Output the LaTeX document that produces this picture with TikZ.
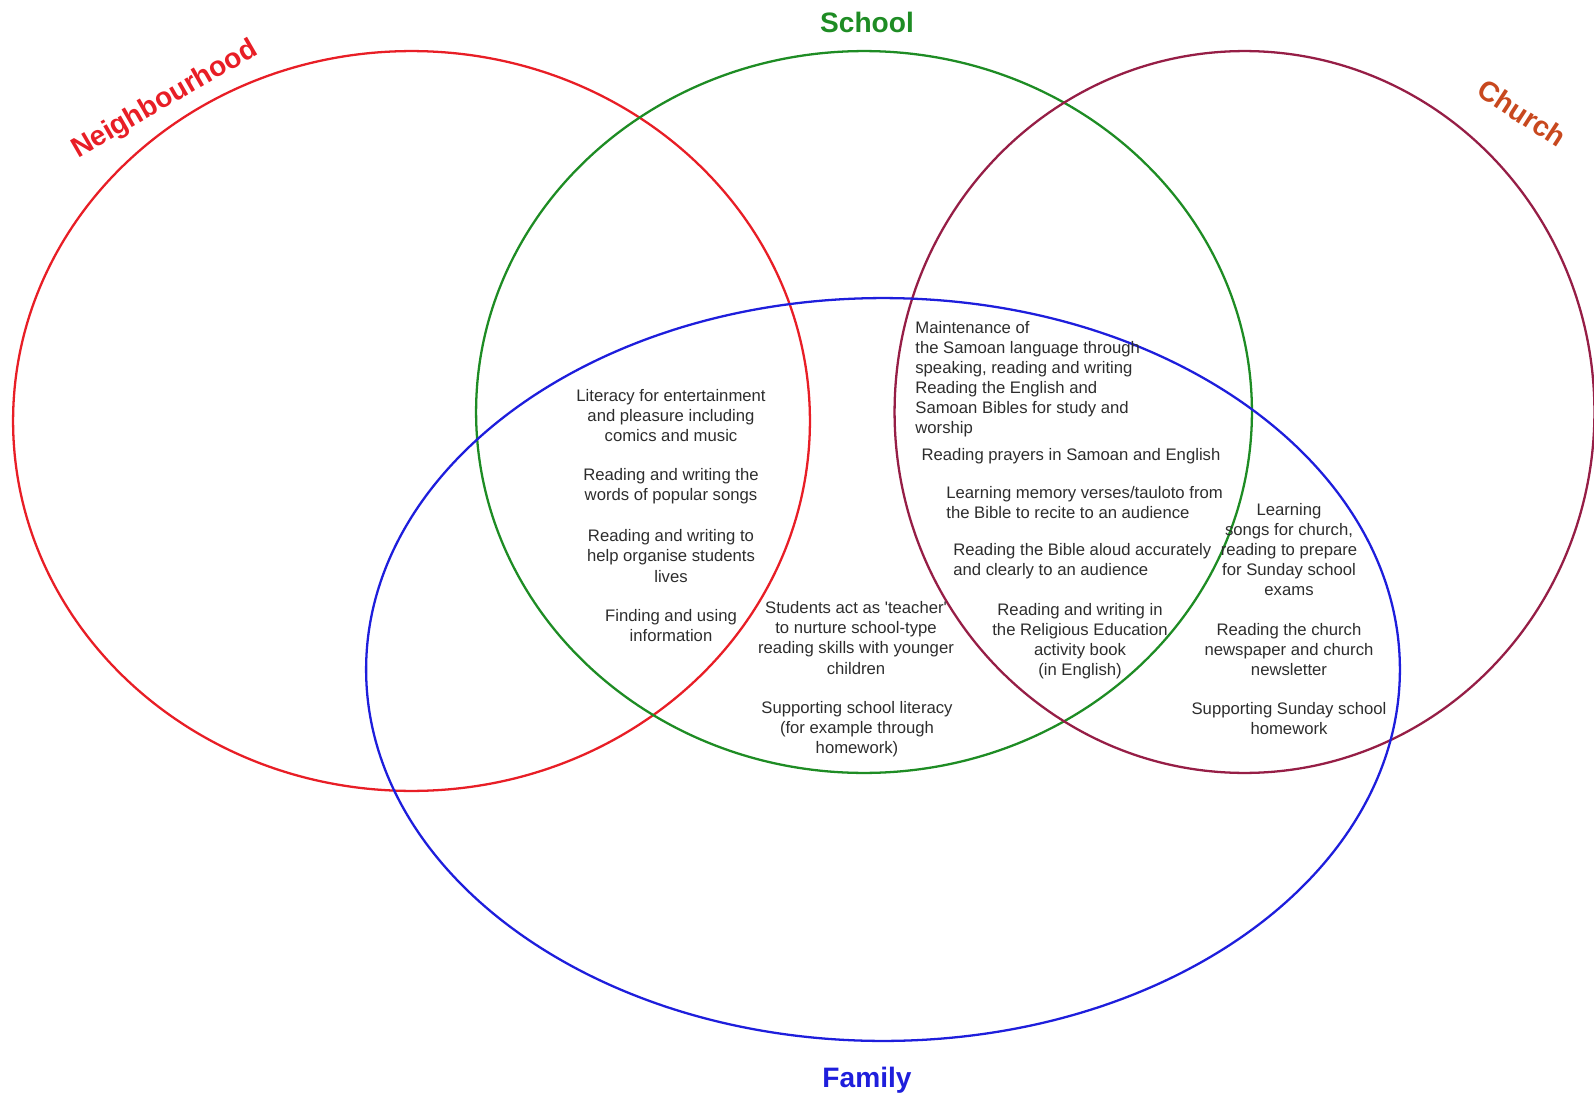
\documentclass[tikz,border=0pt]{standalone}
\usepackage{fontspec}
\setmainfont{Liberation Sans}
\usepackage{xcolor}

\definecolor{nbhdred}{RGB}{232,30,38}
\definecolor{schoolgreen}{RGB}{30,140,36}
\definecolor{churchred}{RGB}{150,30,70}
\definecolor{familyblue}{RGB}{30,30,220}
\definecolor{churchlabel}{RGB}{200,72,30}
\definecolor{txtgray}{RGB}{45,45,45}

\begin{document}
\begin{tikzpicture}[x=0.02cm, y=-0.02cm,
		ring/.style={line width=1.3pt},
		title/.style={font=\fontsize{16}{19}\selectfont\bfseries, inner sep=0},
		item/.style={font=\fontsize{9.5}{11.4}\selectfont, text=txtgray, inner sep=0, align=center},
		itemleft/.style={item, align=left, anchor=west}]
		\useasboundingbox (0,0) rectangle (1594,1098);
		
		%========================================================================
		% Rings
		\draw[ring, nbhdred] (411.5,421) ellipse [x radius=7.97cm, y radius=7.4cm];
		\draw[ring, schoolgreen] (864,412) ellipse [x radius=7.76cm, y radius=7.22cm];
		\draw[ring, churchred] (1244.5,412) ellipse [x radius=7cm, y radius=7.22cm];
		\draw[ring, familyblue] (883,669.5) ellipse [x radius=10.34cm, y radius=7.43cm];
		
		%========================================================================
		% Titles
		\node[title, text=schoolgreen] (school) at (867,22) {School};
		\node[title, text=familyblue] (family) at (867,1080) {Family};
		\node[title, text=nbhdred, rotate=30] (nbhd) at (165,100) {Neighbourhood};
		\node[title, text=churchlabel, rotate=-33] (church) at (1522,113) {Church};
		
		%========================================================================
		% Neighbourhood, school and family
		\node[item] (fun) at (671,416) {Literacy for entertainment\\and pleasure including\\comics and music};
		\node[item] (songs) at (671,486) {Reading and writing the\\words of popular songs};
		\node[item] (organise) at (671,556) {Reading and writing to\\help organise students\\lives};
		\node[item] (info) at (671,625.5) {Finding and using\\information};
		
		% School and family
		\node[item] (teacher) at (856,638) {Students act as \textquotesingle teacher\textquotesingle\\to nurture school-type\\reading skills with younger\\children};
		\node[item] (schoolhw) at (857,729) {Supporting school literacy\\(for example through\\homework)};
		
		% School, church and family
		\node[itemleft] (samoan) at (915,379) {Maintenance of\\the Samoan language through\\speaking, reading and writing\\Reading the English and\\Samoan Bibles for study and\\worship};
		\node[item] (prayers) at (1071,456) {Reading prayers in Samoan and English};
		\node[itemleft] (verses) at (946,503) {Learning memory verses/tauloto from\\the Bible to recite to an audience};
		\node[itemleft] (aloud) at (953,561) {Reading the Bible aloud accurately\\and clearly to an audience};
		\node[item] (relig) at (1080,641.5) {Reading and writing in\\the Religious Education\\activity book\\(in English)};
		
		% Church and family
		\node[item] (exams) at (1289,549.5) {Learning\\songs for church,\\reading to prepare\\for Sunday school\\exams};
		\node[item] (news) at (1289,649.5) {Reading the church\\newspaper and church\\newsletter};
		\node[item] (sundayhw) at (1289,719) {Supporting Sunday school\\homework};
	\end{tikzpicture}
\end{document}
